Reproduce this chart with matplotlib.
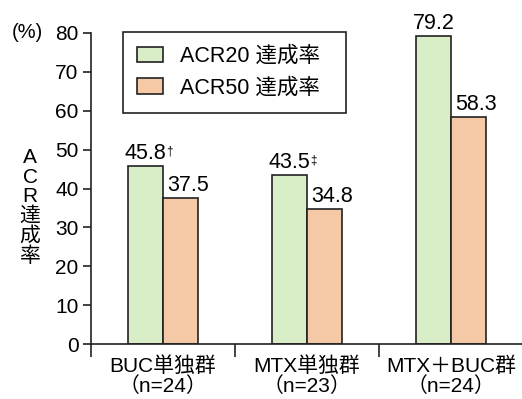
import matplotlib
matplotlib.use("Agg")
import matplotlib.pyplot as plt
import numpy as np

plt.rcParams['font.family'] = ['Liberation Sans', 'Noto Sans CJK JP', 'DejaVu Sans']

# Data
groups = ["BUC単独群", "MTX単独群", "MTX＋BUC群"]
n_labels = ["（n=24）", "（n=23）", "（n=24）"]
acr20 = [45.8, 43.5, 79.2]
acr50 = [37.5, 34.8, 58.3]
acr20_marks = ["†", "‡", ""]
series_names = ["ACR20 達成率", "ACR50 達成率"]
yticks = [0, 10, 20, 30, 40, 50, 60, 70, 80]

green = "#d9edc6"
orange = "#f6c9a6"
ink = "#222222"

fig = plt.figure(figsize=(5.22, 3.99), dpi=100)
ax = fig.add_axes([91 / 522, 55 / 399, 432 / 522, 311 / 399])

x = np.arange(len(groups))
w = 0.24
ax.bar(x - w / 2, acr20, width=w, color=green, edgecolor=ink,
       linewidth=1.2, label=series_names[0] + "  ")
ax.bar(x + w / 2, acr50, width=w, color=orange, edgecolor=ink,
       linewidth=1.2, label=series_names[1] + "  ")

# value labels
for xi, v, m in zip(x, acr20, acr20_marks):
    ax.annotate(f"{v:.1f}", xy=(xi - w / 2, v), xytext=(0, 1.5),
                textcoords="offset points", ha="center", va="bottom", fontsize=15.5)
    if m:
        ax.annotate(m, xy=(xi, v), xytext=(2.5, 14.5),
                    textcoords="offset points", ha="left", va="top", fontsize=8.5)
for xi, v in zip(x, acr50):
    ax.annotate(f"{v:.1f}", xy=(xi, v), xytext=(3, 1.5),
                textcoords="offset points", ha="left", va="bottom", fontsize=15.5)

ax.set_xlim(-0.5, 2.5)
ax.set_ylim(0, 80)
ax.set_yticks(yticks)
ax.tick_params(axis="y", direction="out", length=6, width=1.2, pad=3,
               labelsize=15, color=ink)

# group separators as major ticks, group names at minor ticks
ax.set_xticks(np.arange(-0.5, 3.0, 1.0))
ax.set_xticklabels([])
ax.set_xticks(x, minor=True)
ax.set_xticklabels([f"{g}\n{n}" for g, n in zip(groups, n_labels)], minor=True)
ax.tick_params(axis="x", which="major", direction="out", length=9, width=1.2, color=ink)
ax.tick_params(axis="x", which="minor", length=0, pad=9, labelsize=15)
for lab in ax.get_xticklabels(minor=True):
    lab.set_linespacing(1.0)

for s in ["top", "right"]:
    ax.spines[s].set_visible(False)
for s in ["left", "bottom"]:
    ax.spines[s].set_linewidth(1.2)
    ax.spines[s].set_color(ink)

leg = ax.legend(loc="upper left", bbox_to_anchor=(0.074, 1.003), fontsize=15.5,
                frameon=True, fancybox=False, edgecolor=ink, framealpha=1,
                handlelength=1.2, handleheight=0.75, handletextpad=0.8,
                borderpad=0.65, labelspacing=0.5, borderaxespad=0)
leg.get_frame().set_linewidth(1.2)

fig.text(43 / 522, 1 - 33 / 399, "(%)", ha="right", va="center", fontsize=14.5)
fig.text(30 / 522, 1 - 207 / 399, "A\nC\nR\n達\n成\n率", ha="center", va="center",
         fontsize=15, linespacing=1.04)

fig.savefig("out.png", dpi=100, facecolor="white")
